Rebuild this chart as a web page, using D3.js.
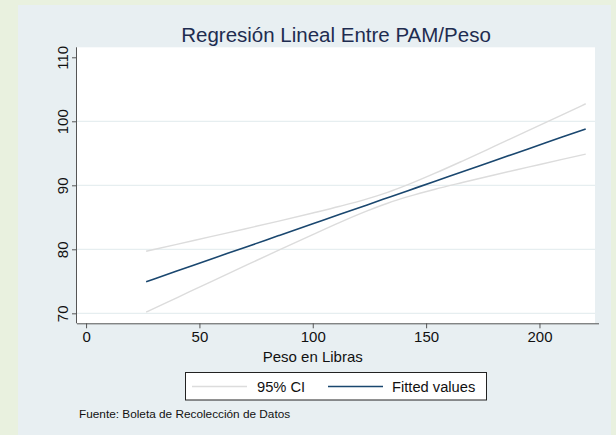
<!DOCTYPE html>
<html>
<head>
<meta charset="utf-8">
<script src="https://cdn.jsdelivr.net/npm/d3@7"></script>
<style>
  html, body { margin: 0; padding: 0; background: #E9F1DF; }
  svg { display: block; }
  text { font-family: "Liberation Sans", Arial, sans-serif; }
</style>
</head>
<body>
<svg id="chart" width="616" height="435"></svg>
<script>
// ---- data ----
const titleText = "Regresión Lineal Entre PAM/Peso";
const xLabel = "Peso en Libras";
const footer = "Fuente: Boleta de Recolección de Datos";
const legendLabels = ["95% CI", "Fitted values"];
const xTicks = [0, 50, 100, 150, 200];
const yTicks = [70, 80, 90, 100, 110];
const pesoX   = [26.5, 40, 55, 70, 85, 100, 112, 124, 133, 142, 154, 166, 180, 195, 210, 220.4];
const fitted  = [74.94, 76.60, 78.45, 80.29, 82.14, 83.99, 85.47, 86.94, 88.05, 89.16, 90.64, 92.11, 93.84, 95.68, 97.53, 98.81];
const ciUpper = [79.69, 80.77, 81.98, 83.18, 84.41, 85.67, 86.72, 87.88, 88.90, 90.10, 91.89, 93.79, 96.07, 98.53, 101.01, 102.74];
const ciLower = [70.19, 72.43, 74.92, 77.40, 79.87, 82.31, 84.22, 86.00, 87.20, 88.22, 89.39, 90.43, 91.61, 92.83, 94.05, 94.88];

// ---- layout ----
const svg = d3.select("#chart");
const panel = {x: 18, y: 5, w: 593, h: 430};
const plot = {left: 77, right: 595, top: 47.3, bottom: 323.3};

const x = d3.scaleLinear().domain([-4, 224.5]).range([plot.left, plot.right]);
const y = d3.scaleLinear().domain([68.44, 111.56]).range([plot.bottom, plot.top]);

svg.append("rect").attr("x", panel.x).attr("y", panel.y)
  .attr("width", panel.w).attr("height", panel.h).attr("fill", "#E8EFF2");

svg.append("rect").attr("x", plot.left).attr("y", plot.top)
  .attr("width", plot.right - plot.left).attr("height", plot.bottom - plot.top)
  .attr("fill", "#FFFFFF");

// gridlines
svg.append("g").selectAll("line").data(yTicks.filter(d => d < 110)).join("line")
  .attr("x1", plot.left).attr("x2", plot.right)
  .attr("y1", d => y(d)).attr("y2", d => y(d))
  .attr("stroke", "#E6EEF0").attr("stroke-width", 1.2);

// lines
const pts = (arr) => pesoX.map((v, i) => [v, arr[i]]);
const lineGen = d3.line().x(d => x(d[0])).y(d => y(d[1])).curve(d3.curveMonotoneX);

svg.append("path").datum(pts(ciUpper)).attr("d", lineGen)
  .attr("fill", "none").attr("stroke", "#DCDCDC").attr("stroke-width", 1.4);
svg.append("path").datum(pts(ciLower)).attr("d", lineGen)
  .attr("fill", "none").attr("stroke", "#DCDCDC").attr("stroke-width", 1.4);
svg.append("path").datum(pts(fitted)).attr("d", lineGen)
  .attr("fill", "none").attr("stroke", "#1A476F").attr("stroke-width", 1.6);

// axes
const xAxis = d3.axisBottom(x).tickValues(xTicks).tickSize(5).tickPadding(3);
const gx = svg.append("g").attr("transform", `translate(0,${plot.bottom})`).call(xAxis);
gx.select(".domain").attr("d", `M${plot.left},0.5H${plot.right + 4}`).attr("stroke", "#555");
gx.selectAll(".tick line").attr("stroke", "#555");
gx.selectAll(".tick text").attr("font-size", 15).attr("fill", "#111")
  .attr("font-family", "Liberation Sans, Arial, sans-serif");

const yAxis = d3.axisLeft(y).tickValues(yTicks).tickSize(5).tickPadding(4);
const gy = svg.append("g").attr("transform", `translate(${plot.left},0)`).call(yAxis);
gy.select(".domain").attr("d", `M-0.5,${plot.top}V${plot.bottom}`).attr("stroke", "#555");
gy.selectAll(".tick line").attr("stroke", "#555");
gy.selectAll(".tick text")
  .attr("font-size", 15).attr("fill", "#111")
  .attr("font-family", "Liberation Sans, Arial, sans-serif")
  .attr("x", null).attr("dy", null)
  .attr("text-anchor", "middle")
  .attr("transform", "translate(-9,0) rotate(-90)");

// titles
svg.append("text").attr("x", (plot.left + plot.right) / 2).attr("y", 42)
  .attr("text-anchor", "middle").attr("font-size", 20.5).attr("fill", "#1E2C50")
  .text(titleText);
svg.append("text").attr("x", x(100)).attr("y", 362)
  .attr("text-anchor", "middle").attr("font-size", 15).attr("fill", "#111")
  .text(xLabel);

// legend
const lg = svg.append("g");
lg.append("rect").attr("x", 185.5).attr("y", 372.5).attr("width", 301).attr("height", 27.5)
  .attr("fill", "#fff").attr("stroke", "#222").attr("stroke-width", 1);
const legendItems = [
  {label: legendLabels[0], color: "#DCDCDC", x1: 192, x2: 247, tx: 257},
  {label: legendLabels[1], color: "#1A476F", x1: 328, x2: 383, tx: 392}
];
legendItems.forEach(it => {
  lg.append("line").attr("x1", it.x1).attr("x2", it.x2).attr("y1", 386.5).attr("y2", 386.5)
    .attr("stroke", it.color).attr("stroke-width", 1.5);
  lg.append("text").attr("x", it.tx).attr("y", 392).attr("font-size", 14.7).attr("fill", "#111")
    .text(it.label);
});

// footer
svg.append("text").attr("x", 79).attr("y", 417.5).attr("font-size", 11.8).attr("fill", "#111")
  .text(footer);
</script>
</body>
</html>
